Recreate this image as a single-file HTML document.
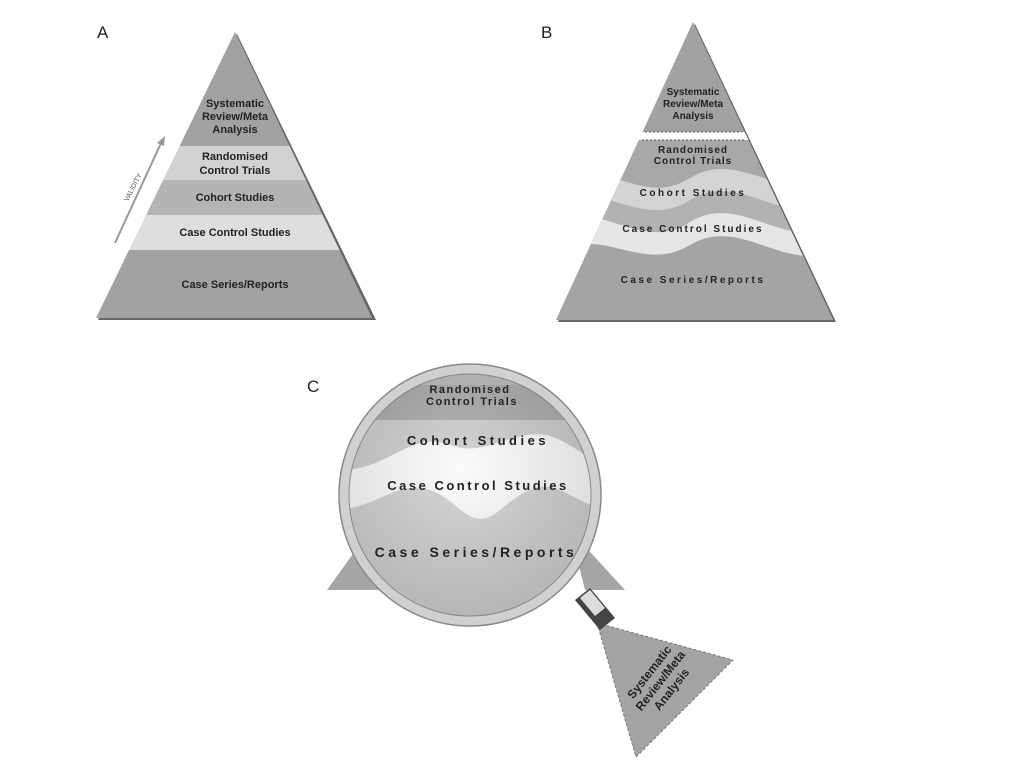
<!DOCTYPE html>
<html><head><meta charset="utf-8"><style>
html,body{margin:0;padding:0;background:#fff}
svg{display:block}
text{font-family:"Liberation Sans",sans-serif;font-weight:bold;fill:#222}
</style></head><body>
<svg width="1024" height="767" viewBox="0 0 1024 767" xmlns="http://www.w3.org/2000/svg">
<defs>
<clipPath id="ca"><polygon points="235,32 96,318 372,318"/></clipPath>
<clipPath id="cb"><polygon points="693,22 556,320 833,320"/></clipPath>
<clipPath id="cc"><circle cx="470" cy="495" r="122"/></clipPath>
<radialGradient id="lens" cx="0.45" cy="0.4" r="0.6"><stop offset="0" stop-color="#fff" stop-opacity="0.25"/><stop offset="1" stop-color="#777" stop-opacity="0.25"/></radialGradient>
</defs>
<!-- A -->
<text x="97" y="38" font-size="17" style="font-weight:normal">A</text>
<polygon points="237,34 98,320 376,320" fill="#666"/>
<g clip-path="url(#ca)">
<rect x="90" y="30" width="290" height="116" fill="#a2a2a2"/>
<rect x="90" y="146" width="290" height="34" fill="#d2d2d2"/>
<rect x="90" y="180" width="290" height="35" fill="#b4b4b4"/>
<rect x="90" y="215" width="290" height="35" fill="#dedede"/>
<rect x="90" y="250" width="290" height="70" fill="#a2a2a2"/>
</g>
<g font-size="11" text-anchor="middle">
<text x="235" y="107">Systematic</text><text x="235" y="120">Review/Meta</text><text x="235" y="133">Analysis</text>
<text x="235" y="160">Randomised</text><text x="235" y="174">Control Trials</text>
<text x="235" y="201">Cohort Studies</text>
<text x="235" y="236">Case Control Studies</text>
<text x="235" y="288">Case Series/Reports</text>
</g>
<line x1="115" y1="243" x2="162" y2="141" stroke="#999" stroke-width="2"/>
<polygon points="165,136 157,143 164,146" fill="#999"/>
<text x="0" y="0" font-size="7" transform="translate(128,202) rotate(-63)" style="font-weight:normal;fill:#555">VALIDITY</text>
<!-- B -->
<text x="541" y="38" font-size="17" style="font-weight:normal">B</text>
<polygon points="695,24 558,322 836,322" fill="#666"/>
<g clip-path="url(#cb)">
<rect x="550" y="20" width="290" height="112" fill="#a2a2a2"/>
<rect x="550" y="132" width="290" height="8" fill="#fff"/>
<path d="M550,140 H840 V320 H550Z" fill="#a8a8a8"/>
<path d="M550,180 C600,150 640,210 690,178 C740,148 780,205 840,180 V320 H550Z" fill="#d4d4d4"/>
<path d="M550,205 C600,175 640,232 690,200 C740,170 780,228 840,205 V320 H550Z" fill="#b2b2b2"/>
<path d="M550,225 C600,195 640,255 690,222 C740,192 780,250 840,228 V320 H550Z" fill="#e6e6e6"/>
<path d="M550,255 C600,222 640,275 690,245 C740,215 780,272 840,252 V320 H550Z" fill="#a4a4a4"/>
</g>
<line x1="645" y1="132" x2="742" y2="132" stroke="#555" stroke-dasharray="2,2"/>
<line x1="642" y1="140" x2="745" y2="140" stroke="#555" stroke-dasharray="2,2"/>
<g font-size="10" text-anchor="middle">
<text x="693" y="95">Systematic</text><text x="693" y="107">Review/Meta</text><text x="693" y="119">Analysis</text>
<text x="693" y="153" letter-spacing="1">Randomised</text><text x="693" y="164" letter-spacing="1">Control Trials</text>
<text x="693" y="196" letter-spacing="2.5">Cohort Studies</text>
<text x="693" y="232" letter-spacing="2">Case Control Studies</text>
<text x="693" y="283" letter-spacing="2.5">Case Series/Reports</text>
</g>
<!-- C -->
<text x="307" y="392" font-size="17" style="font-weight:normal">C</text>
<polygon points="327,590 370,530 405,590" fill="#a6a6a6"/>
<polygon points="570,530 625,590 585,590" fill="#a6a6a6"/>
<polygon points="597,623 733,660 636,757" fill="#a4a4a4" stroke="#777" stroke-dasharray="3,2"/>
<polygon points="575,600 590,588 615,618 600,630" fill="#444"/>
<polygon points="580,598 590,590 605,608 595,616" fill="#ddd"/>
<g clip-path="url(#cc)">
<rect x="340" y="360" width="270" height="270" fill="#b0b0b0"/>
<path d="M405,385 H540 L600,450 V630 H340 V450Z" fill="#9c9c9c"/>
<path d="M340,420 H610 V630 H340Z" fill="#c4c4c4"/>
<path d="M340,470 C390,470 410,430 450,445 C490,460 520,420 560,440 C590,455 600,470 610,470 V630 H340Z" fill="#fafafa"/>
<path d="M340,510 C380,505 400,480 430,490 C460,500 470,535 500,510 C530,485 545,480 570,495 C590,505 600,510 610,510 V630 H340Z" fill="#c8c8c8"/>
<rect x="340" y="360" width="270" height="270" fill="url(#lens)"/>
</g>
<circle cx="470" cy="495" r="126" fill="none" stroke="#d0d0d0" stroke-width="9"/>
<circle cx="470" cy="495" r="131" fill="none" stroke="#888" stroke-width="1.5"/>
<circle cx="470" cy="495" r="121" fill="none" stroke="#888" stroke-width="1"/>
<g font-size="13" text-anchor="middle" letter-spacing="1.5">
<text x="470" y="393" font-size="11">Randomised</text>
<text x="472" y="405" font-size="11">Control Trials</text>
<text x="478" y="445" letter-spacing="3.5">Cohort Studies</text>
<text x="478" y="490" letter-spacing="2.5">Case Control Studies</text>
<text x="476" y="557" font-size="14" letter-spacing="3.5">Case Series/Reports</text>
</g>
<g font-size="12" text-anchor="middle" transform="translate(662,682) rotate(-52)">
<text x="0" y="-12">Systematic</text><text x="0" y="2">Review/Meta</text><text x="0" y="16">Analysis</text>
</g>
</svg>
</body></html>
